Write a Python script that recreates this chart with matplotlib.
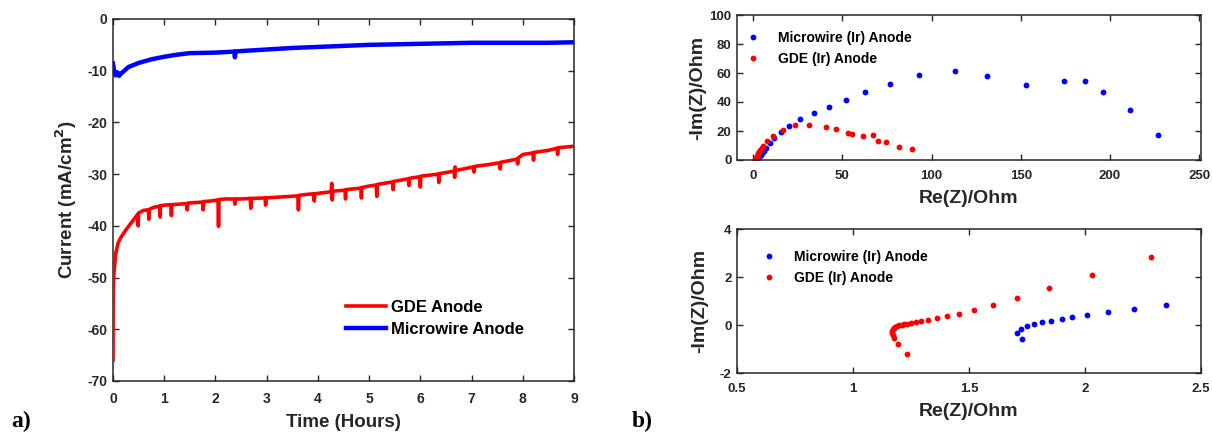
import matplotlib
matplotlib.use("Agg")
import matplotlib.pyplot as plt

# ---------------- data: panel a (chronoamperometry) ----------------
gde_t = [0.0, 0.003, 0.008, 0.02, 0.05, 0.1, 0.15, 0.25, 0.35, 0.45, 0.48, 0.49, 0.50,
         0.6, 0.69, 0.70, 0.71, 0.8, 0.91, 0.92, 0.93, 1.0, 1.13, 1.14, 1.15, 1.3, 1.44, 1.45, 1.46,
         1.6, 1.75, 1.76, 1.77, 1.9, 2.05, 2.06, 2.07, 2.2, 2.37, 2.38, 2.39, 2.5, 2.68, 2.69, 2.70,
         2.97, 2.98, 2.99, 3.3, 3.61, 3.62, 3.63, 3.8, 3.92, 3.93, 3.94, 4.1, 4.26, 4.27, 4.28, 4.29,
         4.53, 4.54, 4.55, 4.84, 4.85, 4.86, 5.0, 5.14, 5.15, 5.16, 5.46, 5.47, 5.48, 5.77, 5.78, 5.79,
         5.99, 6.0, 6.01, 6.35, 6.36, 6.37, 6.5, 6.66, 6.67, 6.68, 6.69, 7.04, 7.05, 7.06, 7.3,
         7.55, 7.56, 7.57, 7.89, 7.9, 7.91, 8.0, 8.2, 8.21, 8.22, 8.5, 8.67, 8.68, 8.69, 9.0]
gde_i = [-66.0, -55.0, -51.0, -49.0, -45.5, -43.3, -42.3, -40.8, -39.5, -38.2, -37.8, -40.0, -37.5,
         -37.0, -36.9, -38.7, -36.8, -36.4, -36.2, -38.3, -36.1, -36.0, -35.9, -38.0, -35.9, -35.8, -35.7, -36.9, -35.6,
         -35.5, -35.4, -36.9, -35.3, -35.2, -35.0, -40.1, -34.9, -34.8, -34.8, -35.8, -34.8, -34.8, -34.7, -36.6, -34.7,
         -34.6, -36.0, -34.6, -34.4, -34.2, -36.9, -34.1, -33.9, -33.8, -35.2, -33.8, -33.6, -33.4, -31.8, -35.0, -33.3,
         -33.1, -34.8, -33.0, -32.7, -34.6, -32.6, -32.3, -32.1, -34.3, -32.0, -31.5, -33.0, -31.4, -30.9, -32.2, -30.8,
         -30.5, -32.5, -30.4, -30.0, -31.6, -29.9, -29.7, -29.4, -30.6, -28.6, -29.3, -28.6, -29.6, -28.5, -28.2,
         -27.8, -29.0, -27.7, -27.1, -28.0, -26.9, -26.2, -25.9, -27.3, -25.8, -25.4, -25.0, -26.2, -24.9, -24.6]

mw_t = [0.0, 0.02, 0.05, 0.08, 0.12, 0.16, 0.2, 0.3, 0.5, 0.75, 1.0, 1.25, 1.5, 2.0, 2.37, 2.38, 2.39,
        2.5, 3.0, 3.5, 4.0, 4.5, 5.0, 5.5, 6.0, 6.5, 7.0, 7.5, 8.0, 8.5, 9.0]
mw_i = [-8.6, -10.0, -10.9, -10.3, -11.0, -10.5, -10.2, -9.3, -8.5, -7.8, -7.3, -6.9, -6.6, -6.5, -6.3, -7.4, -6.3,
        -6.2, -5.9, -5.6, -5.4, -5.2, -5.0, -4.9, -4.8, -4.7, -4.6, -4.6, -4.6, -4.6, -4.5]

# ---------------- data: panel b (Nyquist) ----------------
mwz_re = [1.727, 1.706, 1.723, 1.749, 1.78, 1.813, 1.853, 1.9, 1.946, 2.01, 2.1, 2.211, 2.35,
          2.6, 3.0, 3.5, 4.2, 5.0, 6.0, 7.2, 9.4, 12.0, 15.5, 20.0, 26.5, 34.0, 42.5, 52.0,
          63.0, 77.0, 93.0, 113.0, 131.0, 153.0, 174.0, 186.0, 196.0, 211.0, 227.0]
mwz_im = [-0.57, -0.33, -0.17, -0.04, 0.06, 0.11, 0.18, 0.25, 0.32, 0.43, 0.54, 0.68, 0.85,
          1.1, 1.6, 2.3, 3.3, 4.6, 6.3, 8.3, 12.0, 15.3, 19.0, 23.5, 28.0, 32.5, 36.8, 41.5,
          47.0, 52.2, 58.5, 61.2, 57.7, 51.5, 54.2, 54.2, 47.0, 34.5, 17.0]

gdez_re = [1.234, 1.194, 1.177, 1.172, 1.17, 1.17, 1.172, 1.176, 1.182, 1.19, 1.2, 1.21, 1.22,
           1.231, 1.248, 1.27, 1.291, 1.325, 1.363, 1.406, 1.457, 1.523, 1.603, 1.709, 1.846,
           2.03, 2.285, 2.6, 3.0, 3.5, 4.1, 4.8, 5.6, 7.9, 11.2, 16.5, 23.4, 31.3, 40.6, 46.4,
           53.4, 55.6, 61.8, 67.4, 70.0, 74.5, 81.5, 89.0]
gdez_im = [-1.2, -0.81, -0.54, -0.42, -0.33, -0.25, -0.18, -0.12, -0.07, -0.03, 0.0, 0.02, 0.04,
           0.06, 0.08, 0.11, 0.15, 0.22, 0.28, 0.36, 0.47, 0.64, 0.85, 1.13, 1.55,
           2.10, 2.84, 3.5, 4.5, 5.6, 7.0, 8.5, 10.0, 13.0, 16.5, 20.6, 23.8, 23.8, 22.9, 21.5,
           18.3, 17.6, 16.5, 17.2, 13.0, 12.6, 8.9, 7.3]

DARK = "#262626"
FONT = "Liberation Sans"
plt.rcParams["font.family"] = [FONT, "DejaVu Sans"]
plt.rcParams["font.weight"] = "bold"
plt.rcParams["axes.unicode_minus"] = False

fig = plt.figure(figsize=(12.12, 4.33), dpi=100)
W, H = 1212.0, 433.0


def add_ax(x0, y0, x1, y1):
    return fig.add_axes([x0 / W, 1 - y1 / H, (x1 - x0) / W, (y1 - y0) / H])


def style(ax, fs, xpad, ypad):
    for s in ax.spines.values():
        s.set_color(DARK)
        s.set_linewidth(1.1)
    ax.tick_params(direction="in", top=True, right=True, length=4, width=1.0,
                   color=DARK, labelcolor=DARK, labelsize=fs)
    ax.tick_params(axis="x", pad=xpad)
    ax.tick_params(axis="y", pad=ypad)
    for lab in ax.get_xticklabels() + ax.get_yticklabels():
        lab.set_fontweight("bold")


# ---------- panel a ----------
axa = add_ax(113, 19, 574, 381)
axa.plot(mw_t, mw_i, color="#0000ff", lw=3.2, label="Microwire Anode", zorder=2)
axa.plot(gde_t, gde_i, color="#ff0000", lw=2.6, label="GDE Anode", zorder=3)
axa.set_xlim(0, 9)
axa.set_ylim(-70, 0)
axa.set_xticks(range(0, 10))
axa.set_yticks(range(-70, 1, 10))
style(axa, 10, 8, 4)
axa.set_xlabel("Time (Hours)", fontsize=13.5, fontweight="bold", color=DARK, labelpad=6)
axa.set_ylabel("Current (mA/cm$^\\mathbf{2}$)", fontsize=13.5, fontweight="bold", color=DARK, labelpad=6)
h, l = axa.get_legend_handles_labels()
axa.legend([h[1], h[0]], [l[1], l[0]], loc="lower right", bbox_to_anchor=(0.925, 0.08),
           frameon=False, prop={"family": FONT, "weight": "bold", "size": 12},
           handlelength=2.4, handletextpad=0.3, labelspacing=0.45, labelcolor="black")

# ---------- panel b top ----------
axb1 = add_ax(737, 15, 1201, 160)
axb1.plot(mwz_re, mwz_im, "o", color="#0000ff", ms=4.2, mec="none", label="Microwire (Ir) Anode")
axb1.plot(gdez_re, gdez_im, "o", color="#ff0000", ms=4.2, mec="none", label="GDE (Ir) Anode")
axb1.set_xlim(-9, 251)
axb1.set_ylim(0, 100)
axb1.set_xticks([0, 50, 100, 150, 200, 250])
axb1.set_yticks([0, 20, 40, 60, 80, 100])
style(axb1, 9.5, 7, 4)
axb1.set_xlabel("Re(Z)/Ohm", fontsize=14, fontweight="bold", color=DARK, labelpad=6)
axb1.set_ylabel("-Im(Z)/Ohm", fontsize=14, fontweight="bold", color=DARK, labelpad=2)
axb1.legend(loc="upper left", bbox_to_anchor=(-0.005, 0.955), frameon=False,
            prop={"family": FONT, "weight": "bold", "size": 10},
            handlelength=1.2, handletextpad=1.2, labelspacing=0.5, borderaxespad=0.3)

# ---------- panel b bottom ----------
axb2 = add_ax(737, 229, 1201, 373)
axb2.plot(mwz_re, mwz_im, "o", color="#0000ff", ms=4.2, mec="none", label="Microwire (Ir) Anode")
axb2.plot(gdez_re, gdez_im, "o", color="#ff0000", ms=4.2, mec="none", label="GDE (Ir) Anode")
axb2.set_xlim(0.5, 2.5)
axb2.set_ylim(-2, 4)
axb2.set_xticks([0.5, 1, 1.5, 2, 2.5])
axb2.set_xticklabels(["0.5", "1", "1.5", "2", "2.5"])
axb2.set_yticks([-2, 0, 2, 4])
style(axb2, 9.5, 7, 4)
axb2.set_xlabel("Re(Z)/Ohm", fontsize=14, fontweight="bold", color=DARK, labelpad=6)
axb2.set_ylabel("-Im(Z)/Ohm", fontsize=14, fontweight="bold", color=DARK, labelpad=8)
axb2.legend(loc="upper left", bbox_to_anchor=(0.03, 0.92), frameon=False,
            prop={"family": FONT, "weight": "bold", "size": 10},
            handlelength=1.2, handletextpad=1.2, labelspacing=0.5, borderaxespad=0.3)

# panel letters
fig.text(11 / W, 1 - 421 / H, "a)", family="Liberation Serif", weight="bold", fontsize=17,
         va="center", ha="left", color="black")
fig.text(632 / W, 1 - 421 / H, "b)", family="Liberation Serif", weight="bold", fontsize=17,
         va="center", ha="left", color="black")

fig.savefig("out.png", dpi=100)
